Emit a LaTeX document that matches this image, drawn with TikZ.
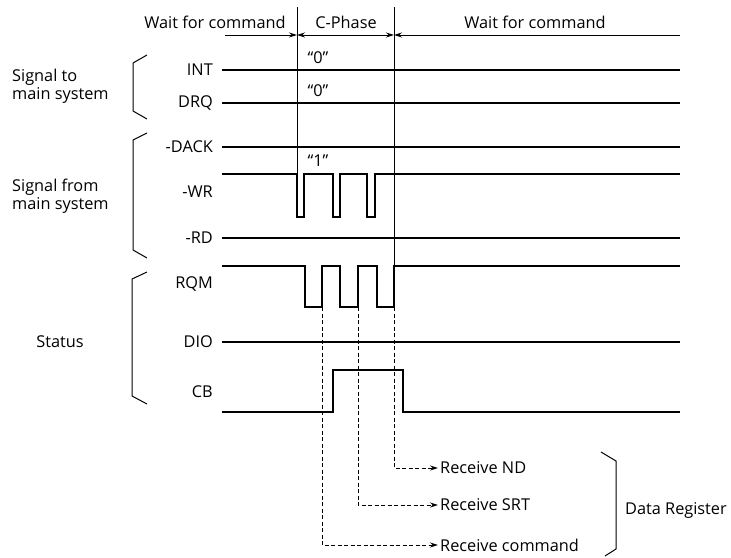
\documentclass[tikz,border=0pt]{standalone}
\usepackage{fontspec}
\setmainfont{Open Sans}
\usetikzlibrary{arrows.meta}
\begin{document}
\begin{tikzpicture}[x=1pt,y=-1pt,
  sig/.style={line width=1.8pt,line join=miter},
  thinline/.style={line width=0.9pt},
  dsh/.style={line width=0.9pt,dash pattern=on 4pt off 2.5pt},
  lbl/.style={font=\fontsize{16.3}{18}\selectfont,inner sep=0pt},
  tipr/.style={-{Stealth[length=8pt,width=5pt]}},
  tipb/.style={{Stealth[length=8pt,width=5pt]}-{Stealth[length=8pt,width=5pt]}},
  brk/.style={line width=1pt}]
\useasboundingbox (0,0) rectangle (731,557);
% header
\node[lbl] (w1) at (215,22) {Wait for command};
\node[lbl] (cp) at (346,22) {C-Phase};
\node[lbl] (w2) at (535,22) {Wait for command};
\coordinate (pa) at (297,7);
\coordinate (pb) at (394,7);
\draw[thinline] (pa) -- (297,174);
\draw[thinline] (pb) -- (394,266);
\draw[thinline,tipr] (225,35) -- (297,35);
\draw[thinline,tipb] (297,35) -- (394,35);
\draw[thinline,tipr] (680,35) -- (394,35);
% signal labels
\node[lbl,anchor=east] (int) at (213,70) {INT};
\node[lbl,anchor=east] (drq) at (213,103) {DRQ};
\node[lbl,anchor=east] (dack) at (213,147) {-DACK};
\node[lbl,anchor=east] (wr) at (213,192) {-WR};
\node[lbl,anchor=east] (rd) at (213,238) {-RD};
\node[lbl,anchor=east] (rqm) at (213,284) {RQM};
\node[lbl,anchor=east] (dio) at (213,342) {DIO};
\node[lbl,anchor=east] (cb) at (213,392) {CB};
\node[lbl] (q1) at (318,58) {\char"201C 0\char"201D};
\node[lbl] (q2) at (318,91) {\char"201C 0\char"201D};
\node[lbl] (q3) at (318,161) {\char"201C 1\char"201D};
% waveforms
\draw[sig] (222,70) -- (680,70);
\draw[sig] (222,103) -- (680,103);
\draw[sig] (222,147) -- (680,147);
\draw[sig] (222,174) -- (297,174) -- (297,217) -- (304,217) -- (304,174) -- (333,174) -- (333,217) -- (340,217) -- (340,174) -- (367,174) -- (367,217) -- (375,217) -- (375,174) -- (680,174);
\draw[sig] (222,238) -- (680,238);
\draw[sig] (222,266) -- (305,266) -- (305,307) -- (322,307) -- (322,266) -- (340,266) -- (340,307) -- (358,307) -- (358,266) -- (377,266) -- (377,307) -- (394,307) -- (394,266) -- (680,266);
\draw[sig] (222,342) -- (680,342);
\draw[sig] (222,412) -- (333,412) -- (333,370) -- (403,370) -- (403,412) -- (680,412);
% group labels
\node[lbl,anchor=west,align=left] (g1) at (12,86) {Signal to\\main system};
\node[lbl,anchor=west,align=left] (g2) at (12,196) {Signal from\\main system};
\node[lbl] (g3) at (60,342) {Status};
\draw[brk] (147,55) -- (133,63) -- (133,111) -- (147,119);
\draw[brk] (147,133) -- (133,140) -- (133,250) -- (147,258);
\draw[brk] (147,272) -- (132,279) -- (132,396) -- (147,404);
% data register
\node[lbl,anchor=west] (rn) at (440,468) {Receive ND};
\node[lbl,anchor=west] (rs) at (440,505) {Receive SRT};
\node[lbl,anchor=west] (rc) at (440,545) {Receive command};
\coordinate (d1) at (394,307);
\coordinate (d2) at (358,307);
\coordinate (d3) at (322,307);
\draw[dsh,tipr] (d1) -- (d1 |- rn.west) -- ([xshift=-2pt]rn.west);
\draw[dsh,tipr] (d2) -- (d2 |- rs.west) -- ([xshift=-2pt]rs.west);
\draw[dsh,tipr] (d3) -- (d3 |- rc.west) -- ([xshift=-2pt]rc.west);
\draw[brk] (601,452) -- (616,461) -- (616,549) -- (605,556);
\node[lbl,anchor=west] (dr) at (625,510) {Data Register};
\end{tikzpicture}
\end{document}
